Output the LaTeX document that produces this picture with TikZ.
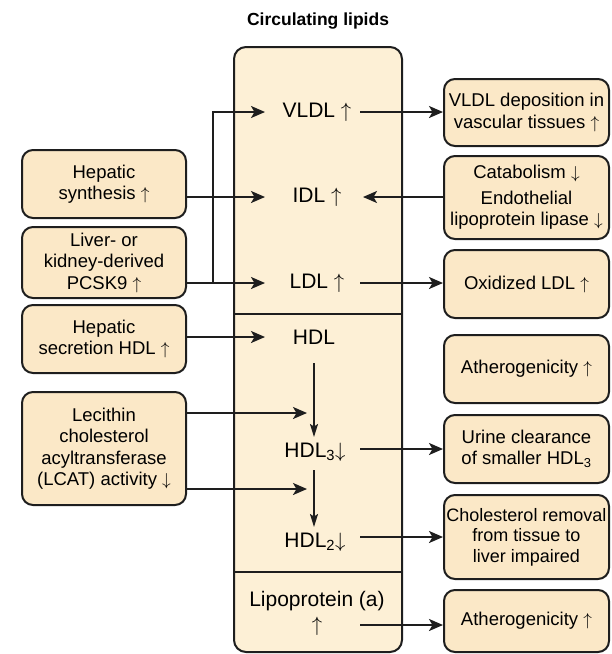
\documentclass[tikz,border=0pt]{standalone}
\usepackage{fontspec}
\setmainfont{Liberation Sans}
\usetikzlibrary{arrows.meta}

\definecolor{boxfill}{HTML}{FBE8C7}
\definecolor{panelfill}{HTML}{FDF0D6}
\definecolor{ink}{HTML}{1E1E1E}

% thin tall arrows used after the labels
\newcommand{\up}{$\uparrow$}
\newcommand{\dn}{$\downarrow$}

\tikzset{
  x=1pt, y=-1pt,
  txt/.style={font=\fontsize{18.5}{21.5}\selectfont, text=black, align=center, inner sep=0pt},
  big/.style={txt, font=\fontsize{21}{21}\selectfont},
  sidebox/.style={txt, draw=ink, line width=2pt, fill=boxfill, rounded corners=11pt,
                  minimum width=164pt},
  panel/.style={draw=ink, line width=2pt, fill=panelfill, rounded corners=12pt},
  rule/.style={draw=ink, line width=1.6pt},
  arr/.style={draw=ink, line width=2pt, -{Stealth[length=14pt,width=12pt,inset=3.5pt]}},
  varr/.style={draw=ink, line width=1.7pt, -{Stealth[length=13pt,width=8pt,inset=2.5pt]}},
  heading/.style={font=\bfseries\fontsize{17.5}{21}\selectfont, inner sep=0pt},
}

\begin{document}
\begin{tikzpicture}
\useasboundingbox (0,0) rectangle (612,654);

% title
\node[heading] (title) at (318,21) {Circulating lipids};

% central panel with its two dividers
\node[panel, minimum width=168pt, minimum height=605pt] (panel) at (318,349.5) {};
\coordinate (div1) at (318,314);
\coordinate (div2) at (318,572);
\draw[rule] (panel.west |- div1) -- (panel.east |- div1);
\draw[rule] (panel.west |- div2) -- (panel.east |- div2);

% lipoprotein classes inside the panel
\node[big] (vldl) at (317,112) {VLDL \up};
\node[big] (idl)  at (317,197) {IDL \up};
\node[big] (ldl)  at (317,283) {LDL \up};
\node[big] (hdl)  at (314,337) {HDL};
\node[big] (hdl3) at (315,452) {HDL\textsubscript{3}\dn};
\node[big] (hdl2) at (315,542) {HDL\textsubscript{2}\dn};
\node[big, font=\fontsize{21}{25}\selectfont] (lpa) at (317,613) {Lipoprotein (a)\\\up};

% left-hand causes
\node[sidebox, minimum height=68pt]  (hs)   at (104,184)   {Hepatic\\synthesis \up};
\node[sidebox, minimum height=71pt]  (pcsk) at (104,262.5) {Liver- or\\kidney-derived\\PCSK9 \up};
\node[sidebox, minimum height=68pt]  (hsec) at (104,339)   {Hepatic\\secretion HDL \up};
\node[sidebox, minimum height=113pt] (lcat) at (104,448.5) {Lecithin\\cholesterol\\acyltransferase\\(LCAT) activity \dn};

% right-hand consequences
\node[sidebox, minimum width=165pt, minimum height=67pt] (vdep)  at (526.5,112.5) {VLDL deposition in\\vascular tissues \up};
\node[sidebox, minimum width=165pt, minimum height=83pt] (cat)   at (526.5,197.5) {Catabolism \dn\\[4pt]Endothelial\\lipoprotein lipase \dn};
\node[sidebox, minimum width=165pt, minimum height=68pt] (oxl)   at (526.5,284)   {Oxidized LDL \up};
\node[sidebox, minimum width=165pt, minimum height=68pt] (ath1)  at (526.5,369)   {Atherogenicity \up};
\node[sidebox, minimum width=165pt, minimum height=68pt] (urine) at (526.5,449)   {Urine clearance\\of smaller HDL\textsubscript{3}};
\node[sidebox, minimum width=165pt, minimum height=84pt, font=\fontsize{18}{20.5}\selectfont] (chol) at (526.5,537) {Cholesterol removal\\from tissue to\\liver impaired};
\node[sidebox, minimum width=165pt, minimum height=62pt] (ath2)  at (526.5,621)   {Atherogenicity \up};

% reference columns and rows for arrow ends
\coordinate (inx)   at (265,0);
\coordinate (outx)  at (360,0);
\coordinate (backx) at (363,0);
\coordinate (jx)    at (213,0);
\coordinate (vx)    at (314,0);
\coordinate (lpy)   at (0,625);
\coordinate (m1)    at (307,413);
\coordinate (m2)    at (307,489);

% inputs from the left
\draw[arr] (hs.east |- idl) -- (idl -| inx);
\draw[arr] (pcsk.east |- ldl) -- (ldl -| inx);
\draw[arr] (ldl -| jx) |- (vldl -| inx);
\draw[arr] (hsec.east |- hdl) -- (hdl -| inx);
\draw[arr] (lcat.east |- m1) -- (m1);
\draw[arr] (lcat.east |- m2) -- (m2);

% HDL maturation
\draw[varr, shorten <=26pt, shorten >=15pt] (hdl -| vx) -- (hdl3 -| vx);
\draw[varr, shorten <=18pt, shorten >=15pt] (hdl3 -| vx) -- (hdl2 -| vx);

% outputs to the right
\draw[arr] (vldl -| outx) -- (vldl -| vdep.west);
\draw[arr] (idl -| cat.west) -- (idl -| backx);
\draw[arr] (ldl -| outx) -- (ldl -| oxl.west);
\draw[arr] (urine -| outx) -- (urine.west);
\draw[arr] (chol -| outx) -- (chol.west);
\draw[arr] (lpy -| outx) -- (lpy -| ath2.west);
\end{tikzpicture}
\end{document}
